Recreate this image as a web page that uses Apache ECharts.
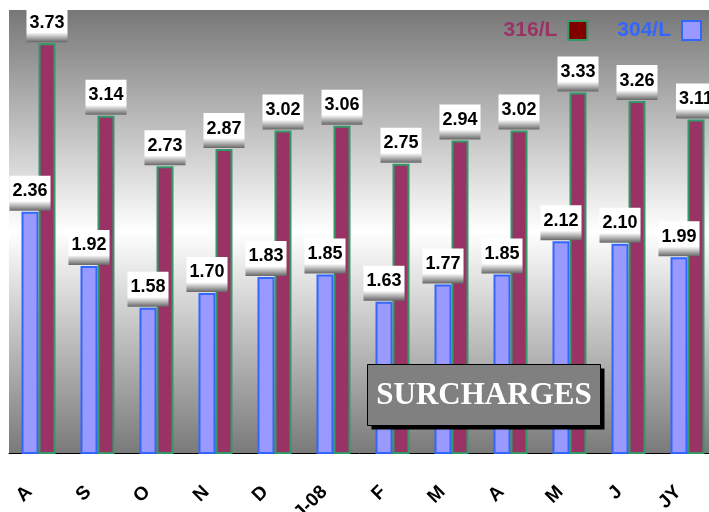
<!DOCTYPE html>
<html>
<head>
<meta charset="utf-8">
<script src="https://cdn.jsdelivr.net/npm/echarts@6/dist/echarts.min.js"></script>
<style>
html, body { margin: 0; padding: 0; background: #fff; }
#chart { width: 709px; height: 512px; }
</style>
</head>
<body>
<div id="chart"></div>
<script>
const months = ['A', 'S', 'O', 'N', 'D', 'J-08', 'F', 'M', 'A', 'M', 'J', 'JY']
const values304 = [2.36, 1.92, 1.58, 1.70, 1.83, 1.85, 1.63, 1.77, 1.85, 2.12, 2.10, 1.99]
const values316 = [3.73, 3.14, 2.73, 2.87, 3.02, 3.06, 2.75, 2.94, 3.02, 3.33, 3.26, 3.11]

const myChart = echarts.init(document.getElementById('chart'))

// white value box with a darker fade at its bottom edge
const labelBox = {
    show: true,
    position: 'top',
    distance: 1,
    formatter: p => p.value.toFixed(2),
    color: '#000',
    fontFamily: 'Liberation Sans, Arial, sans-serif',
    fontWeight: 'bold',
    fontSize: 18,
    lineHeight: 21,
    padding: [5, 3, 9, 3],
    backgroundColor: new echarts.graphic.LinearGradient(0, 0, 0, 1, [
        { offset: 0, color: '#ffffff' },
        { offset: 0.72, color: '#ffffff' },
        { offset: 1, color: '#666666' }
    ])
}

const option = {
    animation: false,
    legend: {
        top: 15,
        right: 2,
        align: 'right',
        icon: 'rect',
        itemWidth: 19,
        itemHeight: 19,
        itemGap: 29,
        textStyle: {
            fontFamily: 'Liberation Sans, Arial, sans-serif',
            fontWeight: 'bold',
            fontSize: 21,
            padding: [0, 6, 0, 0]
        },
        data: [
            { name: '316/L', itemStyle: { color: '#800000' }, textStyle: { color: '#993366' } },
            { name: '304/L', textStyle: { color: '#3366ff' } }
        ]
    },
    grid: {
        left: 9,
        top: 10,
        width: 708,
        bottom: 59,
        outerBoundsMode: 'none',
        show: true,
        borderWidth: 0,
        backgroundColor: new echarts.graphic.LinearGradient(0, 0, 0, 1, [
            { offset: 0, color: '#777777' },
            { offset: 0.5, color: '#ffffff' },
            { offset: 1, color: '#7a7a7a' }
        ])
    },
    xAxis: {
        type: 'category',
        data: months,
        axisLine: { lineStyle: { color: '#000', width: 1 } },
        axisTick: { length: 6, lineStyle: { color: '#000' } },
        axisLabel: {
            rotate: 45,
            margin: 27,
            padding: [0, 13, 0, 0],
            color: '#000',
            fontFamily: 'Liberation Sans, Arial, sans-serif',
            fontWeight: 'bold',
            fontSize: 19
        }
    },
    yAxis: {
        type: 'value',
        min: 0.4,
        max: 4,
        show: false,
        splitLine: { show: false }
    },
    series: [
        {
            name: '304/L',
            type: 'bar',
            data: values304,
            barWidth: 17,
            barGap: '0%',
            itemStyle: { color: '#9999ff', borderColor: '#3366ff', borderWidth: 2 },
            label: labelBox
        },
        {
            name: '316/L',
            type: 'bar',
            data: values316,
            barWidth: 17,
            itemStyle: { color: '#993366', borderColor: '#339966', borderWidth: 2 },
            label: labelBox
        }
    ],
    graphic: [
        {
            type: 'group',
            left: 367,
            top: 364,
            children: [
                { type: 'rect', z: 100, shape: { x: 4, y: 4, width: 233, height: 61 }, style: { fill: '#000' } },
                { type: 'rect', z: 101, shape: { x: 0, y: 0, width: 233, height: 61 }, style: { fill: '#808080', stroke: '#000', lineWidth: 1 } },
                {
                    type: 'text',
                    z: 102,
                    x: 116.5,
                    y: 31,
                    style: {
                        text: 'SURCHARGES',
                        fill: '#fff',
                        font: 'bold 31px "Liberation Serif", "Times New Roman", serif',
                        align: 'center',
                        verticalAlign: 'middle'
                    }
                }
            ]
        }
    ]
}

option && myChart.setOption(option)
</script>
</body>
</html>
